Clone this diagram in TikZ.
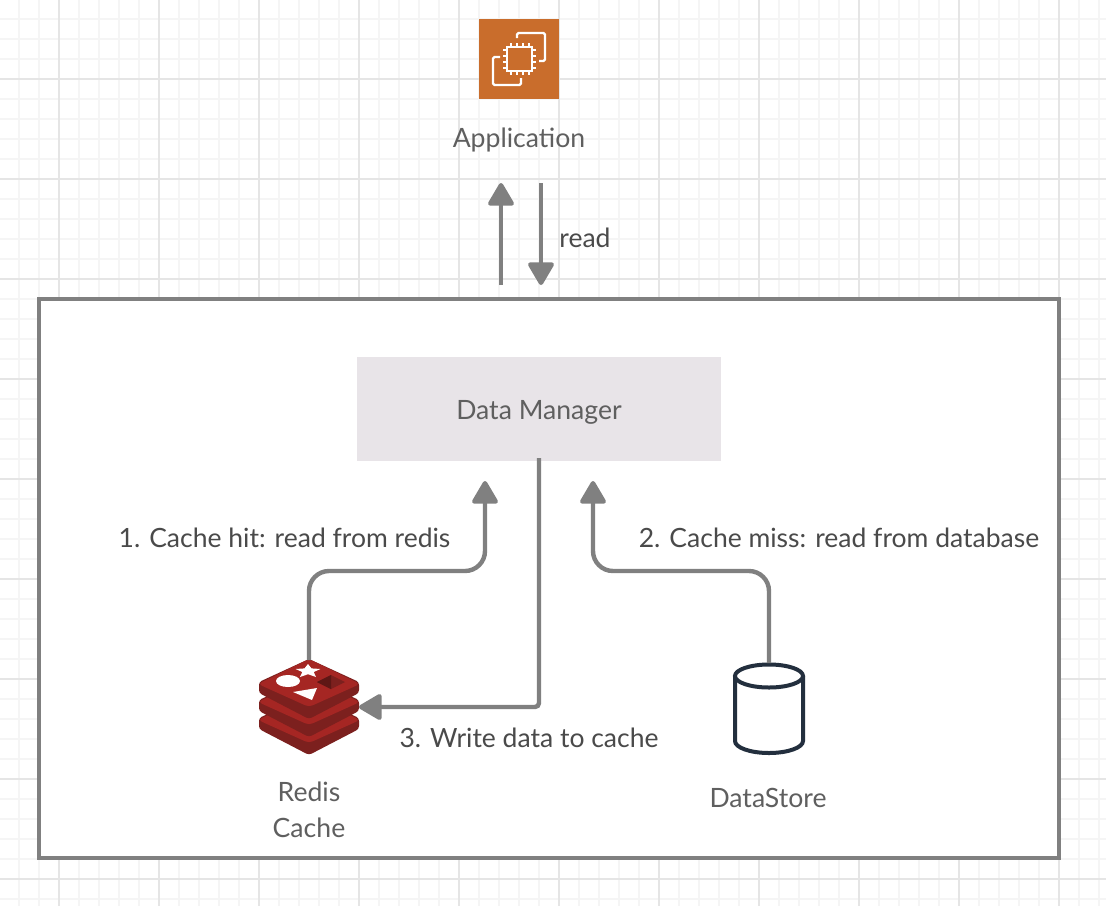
\documentclass[tikz,border=0pt]{standalone}
\usepackage{fontspec}
\setmainfont{Lato}
\usetikzlibrary{arrows.meta}
\definecolor{minorgrid}{HTML}{F5F5F5}
\definecolor{majorgrid}{HTML}{E5E5E5}
\definecolor{flowgray}{HTML}{808080}
\definecolor{labelgray}{HTML}{4A4A4A}
\definecolor{namegray}{HTML}{5F5F5F}
\definecolor{ec2orange}{HTML}{C96D2C}
\definecolor{managerfill}{HTML}{E8E4E8}
\definecolor{redislight}{HTML}{A52623}
\definecolor{redisdark}{HTML}{7C201E}
\definecolor{redisdeep}{HTML}{5E1715}
\definecolor{storeblue}{HTML}{232F3E}
\tikzset{
  flow/.style={draw=flowgray,line width=4.4pt,rounded corners=20pt,
    -{Triangle[length=25pt,width=28pt,round]}},
  namelabel/.style={text=namegray,font=\fontsize{26.6}{36}\selectfont,align=center,inner sep=0pt},
  steplabel/.style={text=labelgray,font=\fontsize{26.5}{36}\selectfont,inner sep=0pt}
}
\begin{document}
\begin{tikzpicture}[x=1pt,y=-1pt]
  \useasboundingbox (0,0) rectangle (1106,906);
  \fill[white] (0,0) rectangle (1106,906);
  \foreach \g in {19,39,...,1099}
    \draw[minorgrid,line width=2pt] (\g,0) -- (\g,906);
  \foreach \g in {19,39,...,899}
    \draw[minorgrid,line width=2pt] (0,\g) -- (1106,\g);
  \foreach \g in {59,159,...,1059}
    \draw[majorgrid,line width=2pt] (\g,0) -- (\g,906);
  \foreach \g in {79,179,...,879}
    \draw[majorgrid,line width=2pt] (0,\g) -- (1106,\g);

  \node[draw=flowgray,fill=white,line width=3.5pt,minimum width=1020pt,minimum height=559pt,
    inner sep=0pt,outer sep=0pt] (frame) at (549,578.5) {};

  % application icon
  \node[fill=ec2orange,minimum size=80pt,inner sep=0pt,outer sep=0pt] (app) at (519,59) {};
  \draw[white,line width=2.2pt,rounded corners=1.5pt] (517,38) -- (517,33) -- (545,33) -- (545,61) -- (539,61);
  \draw[white,line width=2.2pt,rounded corners=1.5pt] (500,57) -- (493,57) -- (493,85) -- (521,85) -- (521,78);
  \draw[white,line width=2.2pt] (507,47) rectangle (532,71);
  \foreach \p in {0,1,2,3} {
    \draw[white,line width=2pt] (510.5+6*\p,43) -- (510.5+6*\p,47);
    \draw[white,line width=2pt] (510.5+6*\p,71) -- (510.5+6*\p,75);
    \draw[white,line width=2pt] (503,50+6*\p) -- (507,50+6*\p);
    \draw[white,line width=2pt] (532,50+6*\p) -- (536,50+6*\p);
  }
  \node[namelabel] (applabel) at (519,140) {Application};

  \node[fill=managerfill,minimum width=364pt,minimum height=104pt,outer sep=0pt,
    namelabel] (manager) at (539,409) {\raisebox{-10pt}[0pt][0pt]{Data Manager}};

  % redis icon
  \node[minimum width=100pt,minimum height=94pt,inner sep=0pt,outer sep=0pt] (redis) at (309,707) {};
  \foreach \d in {36,18,0} {
    \fill[redisdark,rounded corners=3pt] (259,682+\d) -- (309,659+\d) -- (359,682+\d) -- (359,693+\d)
      -- (309,719+\d) -- (259,693+\d) -- cycle;
    \fill[redislight,rounded corners=4pt] (258,684+\d) -- (309,659+\d) -- (360,684+\d) -- (309,707+\d) -- cycle;
  }
  \fill[white] (288,681) ellipse [x radius=12,y radius=6];
  \fill[white] (308,664) -- (311.5,668.4) -- (320.4,669) -- (313.7,672) -- (316,677) -- (308,674.2)
    -- (300,677) -- (302.3,672) -- (295.6,669) -- (304.5,668.4) -- cycle;
  \fill[white] (293,692) -- (317,688) -- (312,700) -- cycle;
  \fill[redisdark] (317,682) -- (331,675) -- (345,682) -- (331,689) -- cycle;
  \fill[redisdeep] (317,682) -- (331,675) -- (331,689) -- cycle;
  \node[namelabel] (redislabel) at (309,810) {Redis\\Cache};

  % data store icon
  \node[minimum width=70pt,minimum height=92pt,inner sep=0pt,outer sep=0pt] (store) at (769,709) {};
  \draw[storeblue,line width=4pt,fill=white] (735,676) -- (735,741)
    arc [start angle=180,end angle=0,x radius=34,y radius=12] -- (803,676);
  \draw[storeblue,line width=4pt,fill=white] (769,676) ellipse [x radius=34,y radius=11.5];
  \node[namelabel] (storelabel) at (768,798) {DataStore};

  \coordinate (upstart) at (501,285);
  \coordinate (upend) at (501,183);
  \coordinate (downstart) at (541,183);
  \coordinate (downend) at (541,285);
  \coordinate (hitend) at (485,481);
  \coordinate (missend) at (593,481);
  \coordinate (bendlevel) at (0,571);
  \coordinate (writelevel) at (0,707);

  \draw[flow] (upstart) -- (upend);
  \draw[flow] (downstart) -- (downend);
  \draw[flow] (redis.north) -- (redis.north |- bendlevel) -- (hitend |- bendlevel) -- (hitend);
  \draw[flow] (store.north) -- (store.north |- bendlevel) -- (missend |- bendlevel) -- (missend);
  \draw[flow,rounded corners=4pt] ([yshift=3pt]manager.south) -- (manager.south |- writelevel) -- (redis.east);

  \node[steplabel] (readlabel) at (585,238) {read};
  \node[steplabel] (hitlabel) at (284.5,538) {1. Cache hit: read from redis};
  \node[steplabel] (misslabel) at (839,538) {2. Cache miss: read from database};
  \node[steplabel] (writelabel) at (529,738) {3. Write data to cache};
\end{tikzpicture}
\end{document}
